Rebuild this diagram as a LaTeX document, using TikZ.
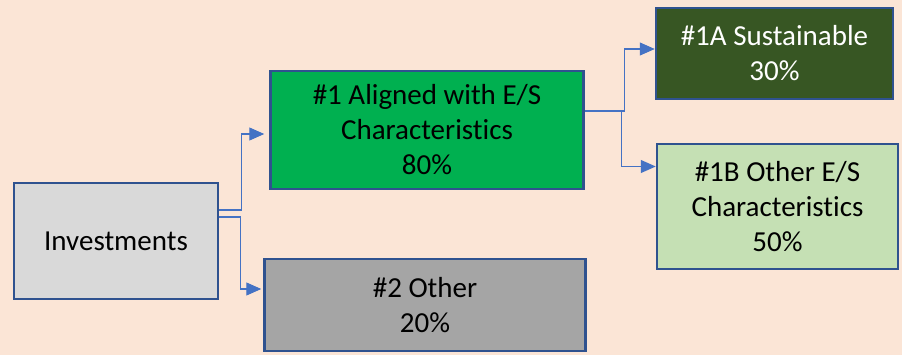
\documentclass[tikz,border=0pt]{standalone}
\usepackage{fontspec}
\setmainfont{Carlito}[Ligatures=NoCommon]
\usepackage{xcolor}
\usepackage{tikz}
\usetikzlibrary{arrows.meta, positioning}
\definecolor{pagebg}{HTML}{FBE5D6}
\definecolor{edge}{HTML}{2F528F}
\definecolor{link}{HTML}{4472C4}
\definecolor{invbg}{HTML}{D9D9D9}
\definecolor{alignbg}{HTML}{00B050}
\definecolor{susbg}{HTML}{375623}
\definecolor{oesbg}{HTML}{C5E0B4}
\definecolor{otherbg}{HTML}{A5A5A5}
\tikzset{
    font=\fontsize{29}{35}\selectfont,
    box/.style={rectangle, draw=edge, line width=2.5pt, align=center, inner sep=0pt},
    invest/.style={box, fill=invbg, minimum width=204pt, minimum height=116pt},
    aligned/.style={box, fill=alignbg, minimum width=313pt, minimum height=118pt},
    sustain/.style={box, fill=susbg, text=white, minimum width=237pt, minimum height=91pt},
    otheres/.style={box, fill=oesbg, minimum width=241pt, minimum height=125pt},
    other/.style={box, fill=otherbg, minimum width=321pt, minimum height=92pt},
    arrow/.style={-{Triangle[length=15pt, width=13pt]}, line width=1.1pt, color=link}
}
\begin{document}
\begin{tikzpicture}[x=1pt, y=1pt]

    % Page
    \fill [pagebg] (0,0) rectangle (902,-355);
    \useasboundingbox (0,0) rectangle (902,-355);

    % Investments
    \node (inv) [invest] at (116,-241) {Investments};

    % First split
    \node (al) [aligned, right=50pt of inv.east, yshift=111pt] {\#1 Aligned with E/S\\Characteristics\\80\%};
    \node (oth) [other, right=44pt of inv.east, yshift=-64pt] {\#2 Other\\20\%};

    % Second split
    \node (sus) [sustain, right=70pt of al.east, yshift=76.5pt] {\#1A Sustainable\\30\%};
    \node (oes) [otheres, right=71pt of al.east, yshift=-76.5pt] {\#1B Other E/S\\Characteristics\\50\%};

    % Paths: Investments
    \draw [arrow, shorten >=5pt] ([yshift=31pt]inv.east) -- ++(22pt,0) |- ([yshift=-4pt]al.west);
    \draw [arrow, shorten >=2pt] ([yshift=24pt]inv.east) -- ++(21pt,0) |- ([yshift=16pt]oth.west);

    % Paths: Aligned
    \draw [arrow] ([yshift=19pt]al.east) -- ++(40pt,0) |- ([yshift=4.5pt]sus.west);
    \draw [arrow] ([yshift=19pt]al.east) -- ++(37pt,0) |- ([yshift=40pt]oes.west);

\end{tikzpicture}
\end{document}
